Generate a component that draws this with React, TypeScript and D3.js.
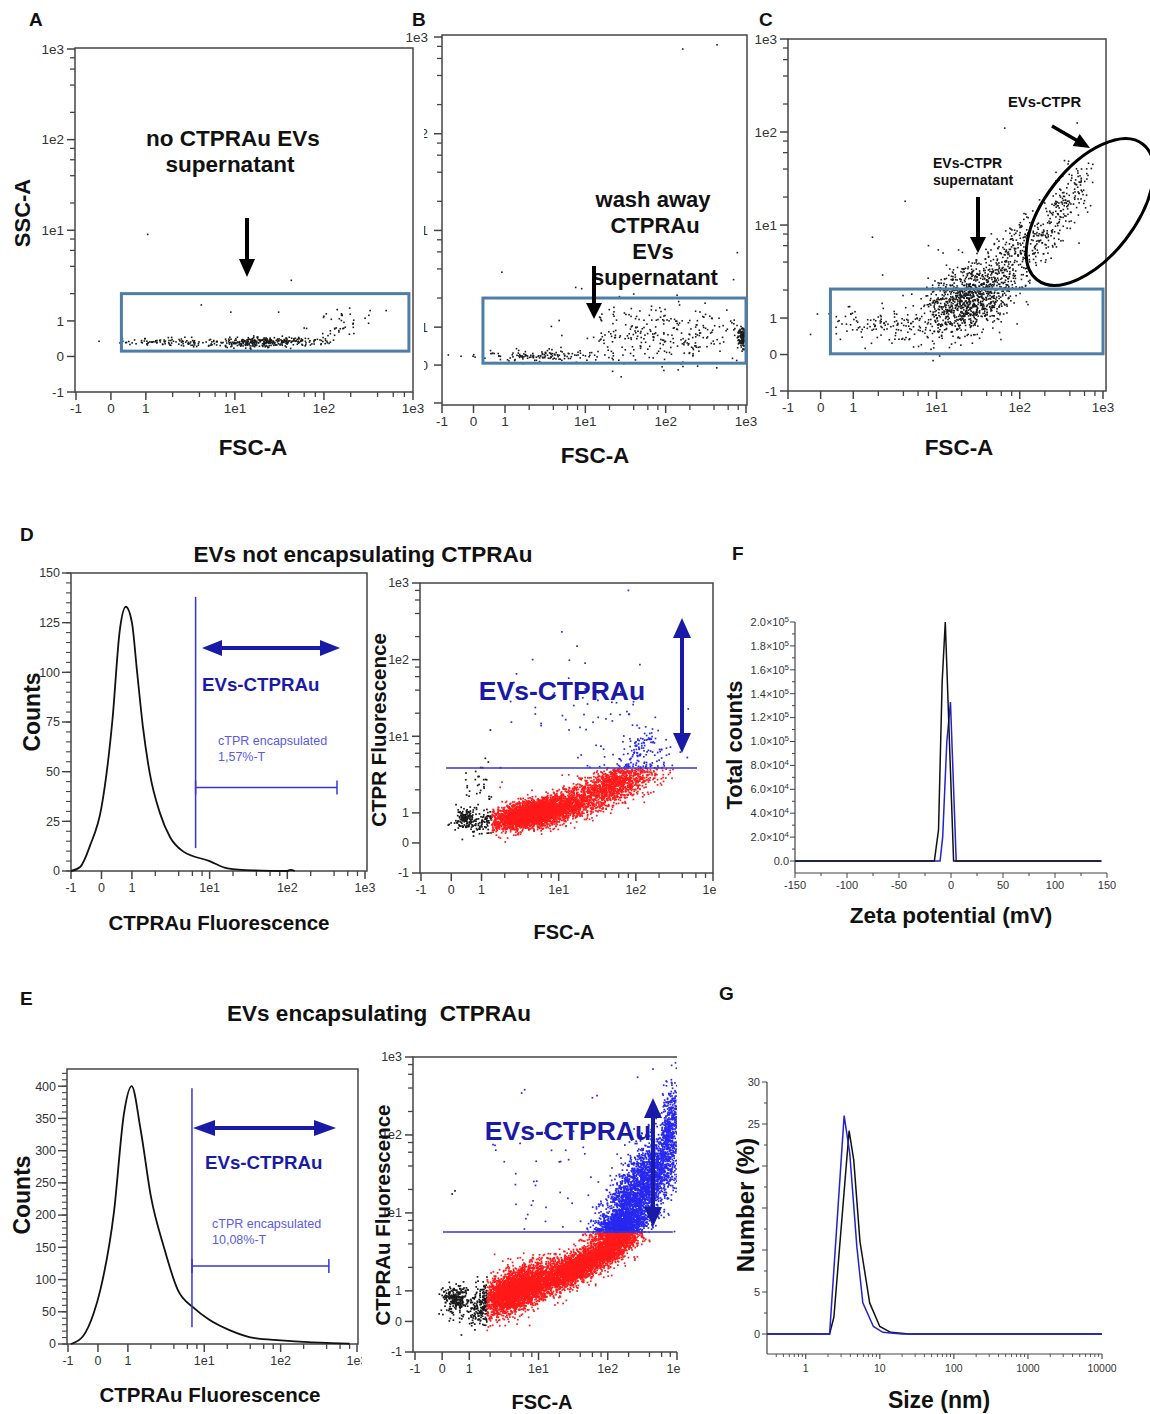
import React from 'react';
import * as d3 from 'd3';

const FONT = "'Liberation Sans', Arial, Helvetica, sans-serif";
const DEC = 2.55;
const tf = (v: number) => (v <= 1 ? v + 1 : 2 + DEC * Math.log10(v));
const T_MAX = tf(1000);

// biexponential axis ticks
const bxMajorValues = [-1, 0, 1, 10, 100, 1000];
const bxMajorLabels = ['-1', '0', '1', '1e1', '1e2', '1e3'];
const bxMinorMultipliers = [2, 4, 6, 8];
const bxMinorDecades = [1, 10, 100];

// cytometry populations: [xCentre, yCentre, sdX, sdY, rho, count] (sd in display units)
const popsA = [
  [21, 0.4, 0.8, 0.07, 0.2, 330],
  [1.8, 0.42, 0.7, 0.07, 0, 90],
  [150, 0.9, 0.4, 0.22, 0.4, 40],
];
const outliersA = [[1.05, 9], [43, 2.8], [4.2, 1.5], [9, 1.25], [31, 1.25], [330, 1.3], [500, 1.3], [160, 1.15], [60, 0.8]];

const popsB = [
  [2.5, 0.25, 1.0, 0.08, 0, 140],
  [91, 0.8, 1.3, 0.45, 0, 280],
  [900, 0.75, 0.08, 0.15, 0, 130],
];
const outliersB = [[163, 750], [436, 830], [0.9, 3.7], [780, 5.9], [700, 3.1], [9, 2.5], [40, 2.2], [200, 2.0]];

const popsC = [
  [25, 1.6, 0.75, 0.5, 0.45, 1100],
  [100, 5.9, 0.5, 0.45, 0.6, 200],
  [310, 14.5, 0.45, 0.7, 0.75, 200],
  [2.06, 0.8, 0.8, 0.25, 0, 110],
];
const outliersC = [[66, 110], [490, 125], [4.2, 18], [1.7, 7.4], [2.25, 2.9], [8, 6], [12, 5]];

const popsDs = [
  [0.45, 0.85, 0.17, 0.17, 0, 130],
  [1.0, 2.25, 0.35, 0.4, 0, 35],
  [5.3, 1.0, 0.8, 0.27, 0.55, 3400],
  [48, 2.25, 0.75, 0.38, 0.6, 1300],
  [120, 8, 0.4, 0.3, 0.3, 90],
  [23, 18, 1.4, 0.7, 0, 45],
];
const outliersDs = [[11, 230], [17.3, 150], [4.6, 100], [22, 90], [80, 800], [167, 1000]];
const gateDs = { y: 3.84, blackMaxX: 1.35, x0: -0.17, x1: 620 };

const popsEs = [
  [0.5, 0.75, 0.25, 0.24, 0, 240],
  [4.8, 1.03, 0.7, 0.42, 0.6, 3200],
  [36, 2.02, 0.8, 0.45, 0.8, 2400],
  [120, 3.6, 0.45, 0.33, 0.7, 800],
  [300, 20, 0.75, 0.95, 0.75, 3000],
  [150, 6.6, 0.5, 0.25, 0.5, 900],
  [800, 140, 0.2, 0.7, 0.4, 400],
  [11.5, 28, 1.3, 1.0, 0, 40],
];
const outliersEs = [[5.7, 345], [6.3, 380], [60, 300], [70, 320], [380, 1000], [270, 550], [450, 700]];
const gateEs = { y: 5.7, blackMaxX: 1.8, x0: 0.03, x1: 870 };

// histograms (CTPRAu fluorescence, counts)
const histDx = [-1, -0.7, -0.37, 0, 0.36, 0.6, 0.8, 1, 1.16, 1.39, 1.7, 2.3, 3.1, 4.5, 10, 17, 36, 100, 110, 125];
const histDy = [0, 2, 13, 32, 76, 121, 133, 125, 101, 72, 49, 29, 17, 10, 5, 1.3, 0.3, 0, 0.6, 0];
const histEx = [-0.9, -0.5, -0.14, 0.08, 0.53, 0.87, 1.12, 1.47, 2.0, 2.95, 4.5, 7.3, 11.5, 21, 46, 100, 230, 470, 800];
const histEy = [0, 12, 48, 84, 203, 358, 400, 332, 229, 151, 84, 56, 38, 22, 9, 5.7, 3, 1.5, 0.5];
const gateHistD = { x: 6.6, yTop: 138, yBot: 11.5, bar: 42, barEnd: 436 };
const gateHistE = { x: 6.9, yTop: 397, yBot: 26, bar: 121, barEnd: 428 };

// zeta potential (mV, total counts)
const zetaBlackX = [-150, -16, -12, -8.5, -5.5, 2.5, 144];
const zetaBlackY = [0, 0, 26000, 150000, 200000, 0, 0];
const zetaBlueX = [-150, -10.5, -8, -4, -0.5, 5, 145];
const zetaBlueY = [0, 0, 20000, 100000, 133000, 0, 0];
const zetaYTicks = [0, 2e4, 4e4, 6e4, 8e4, 1e5, 1.2e5, 1.4e5, 1.6e5, 1.8e5, 2e5];
const zetaXTicks = [-150, -100, -50, 0, 50, 100, 150];

// size distribution (nm, number %)
const sizeBlackX = [0.3, 2.1, 2.4, 3.85, 4.45, 5.4, 7.3, 10, 14, 25, 10000];
const sizeBlackY = [0, 0, 2, 24.2, 20.7, 11, 3.7, 0.9, 0.2, 0, 0];
const sizeBlueX = [0.3, 2.1, 3.3, 3.93, 4.9, 5.9, 8.2, 11, 20, 10000];
const sizeBlueY = [0, 0, 26, 21.5, 10.4, 3.7, 0.9, 0.2, 0, 0];
const sizeYTicks = [0, 5, 10, 15, 20, 25, 30];
const sizeYLabels = ['0', '5', '', '', '', '25', '30'];
const sizeXTicks = [1, 10, 100, 1000, 10000];

const AX = '#444';
const DARKBLUE = '#1a1aa8';
const GATEBLUE = '#3535d8';
const LIGHTBLUE = '#5a5ae8';
const RED = '#ff1a1a';
const PBLUE = '#2828f0';

function genCloud(pops: number[][], seed: number): [number, number][] {
  const rng = d3.randomLcg(seed);
  const norm = d3.randomNormal.source(rng)(0, 1);
  const out: [number, number][] = [];
  pops.forEach(([cx, cy, sx, sy, rho, n]) => {
    const mx = tf(cx), my = tf(cy);
    for (let i = 0; i < n; i++) {
      const z1 = norm(), z2 = norm();
      out.push([mx + sx * z1, my + sy * (rho * z1 + Math.sqrt(1 - rho * rho) * z2)]);
    }
  });
  return out;
}

function arrowPts(x1: number, y1: number, x2: number, y2: number, shaft: number, hl: number, hw: number, dbl: boolean) {
  const L = Math.hypot(x2 - x1, y2 - y1);
  const ux = (x2 - x1) / L, uy = (y2 - y1) / L;
  const nx = -uy, ny = ux, hs = shaft / 2;
  const p: number[][] = [];
  if (dbl) {
    p.push([x1, y1]);
    p.push([x1 + ux * hl + nx * hw, y1 + uy * hl + ny * hw]);
    p.push([x1 + ux * hl + nx * hs, y1 + uy * hl + ny * hs]);
  } else p.push([x1 + nx * hs, y1 + ny * hs]);
  p.push([x2 - ux * hl + nx * hs, y2 - uy * hl + ny * hs]);
  p.push([x2 - ux * hl + nx * hw, y2 - uy * hl + ny * hw]);
  p.push([x2, y2]);
  p.push([x2 - ux * hl - nx * hw, y2 - uy * hl - ny * hw]);
  p.push([x2 - ux * hl - nx * hs, y2 - uy * hl - ny * hs]);
  if (dbl) {
    p.push([x1 + ux * hl - nx * hs, y1 + uy * hl - ny * hs]);
    p.push([x1 + ux * hl - nx * hw, y1 + uy * hl - ny * hw]);
  } else p.push([x1 - nx * hs, y1 - ny * hs]);
  return p.map((q) => q.join(',')).join(' ');
}

function Arrow(props: { x1: number; y1: number; x2: number; y2: number; shaft?: number; hl?: number; hw?: number; dbl?: boolean; color?: string }) {
  const { x1, y1, x2, y2, shaft = 4, hl = 16, hw = 8, dbl = false, color = '#000' } = props;
  return <polygon points={arrowPts(x1, y1, x2, y2, shaft, hl, hw, dbl)} fill={color} />;
}

const bxMinorTs = bxMinorDecades.flatMap((d) => bxMinorMultipliers.map((m) => tf(m * d)));
const bxMajorTs = bxMajorValues.map(tf);

function BiexX({ sx, y }: any) {
  return (
    <g>
      {bxMajorTs.map((t, i) => <line key={'M' + i} x1={sx(t)} x2={sx(t)} y1={y} y2={y + 8} stroke={AX} strokeWidth={1.5} />)}
      {bxMinorTs.map((t, i) => <line key={'m' + i} x1={sx(t)} x2={sx(t)} y1={y} y2={y + 5} stroke={AX} strokeWidth={1.3} />)}
    </g>
  );
}
function BiexXLabels({ sx, y, fs, dy = 21 }: any) {
  return (
    <g>
      {bxMajorTs.map((t, i) => (
        <text key={i} x={sx(t)} y={y + dy} textAnchor="middle" fontSize={fs} fill="#333" fontFamily={FONT}>{bxMajorLabels[i]}</text>
      ))}
    </g>
  );
}
function BiexY({ sy, x }: any) {
  return (
    <g>
      {bxMajorTs.map((t, i) => <line key={'M' + i} x1={x - 8} x2={x} y1={sy(t)} y2={sy(t)} stroke={AX} strokeWidth={1.5} />)}
      {bxMinorTs.map((t, i) => <line key={'m' + i} x1={x - 5} x2={x} y1={sy(t)} y2={sy(t)} stroke={AX} strokeWidth={1.3} />)}
    </g>
  );
}
function BiexYLabels({ sy, x, fs, off = 11 }: any) {
  return (
    <g>
      {bxMajorTs.map((t, i) => (
        <text key={i} x={x - off} y={sy(t)} dy="0.35em" textAnchor="end" fontSize={fs} fill="#333" fontFamily={FONT}>{bxMajorLabels[i]}</text>
      ))}
    </g>
  );
}

type Cfg = {
  id: string;
  frame: number[];
  xr: number[];
  yr: number[];
  fs: number;
  open?: boolean;
  clips?: number[][];
  ylOff?: number;
};

function FlowScatter({ cfg, pts, color, size = 1.6, extra }: { cfg: Cfg; pts: [number, number][]; color: (p: [number, number]) => string; size?: number; extra?: any }) {
  const [l, t, r, b] = cfg.frame;
  const sx = d3.scaleLinear().domain([0, T_MAX]).range(cfg.xr);
  const sy = d3.scaleLinear().domain([0, T_MAX]).range(cfg.yr);
  const order = ['#1a1a1a', RED, PBLUE];
  const sorted = pts.slice().sort((a, b2) => order.indexOf(color(a)) - order.indexOf(color(b2)));
  const clipId = 'clip-' + cfg.id;
  const lblClip = 'lbl-' + cfg.id;
  return (
    <g>
      <defs>
        <clipPath id={clipId}><rect x={l + 1} y={t + 1} width={r - l - 1} height={b - t - 1} /></clipPath>
        {cfg.clips && (
          <clipPath id={lblClip}>{cfg.clips.map((c, i) => <rect key={i} x={c[0]} y={c[1]} width={c[2]} height={c[3]} />)}</clipPath>
        )}
      </defs>
      <g clipPath={`url(#${clipId})`}>
        {sorted.map((p, i) => (
          <rect key={i} x={sx(p[0]) - size / 2} y={sy(p[1]) - size / 2} width={size} height={size} fill={color(p)} />
        ))}
      </g>
      {cfg.open ? (
        <path d={`M${r},${t}H${l}V${b}H${r}`} fill="none" stroke={AX} strokeWidth={1.5} />
      ) : (
        <rect x={l} y={t} width={r - l} height={b - t} fill="none" stroke={AX} strokeWidth={1.5} />
      )}
      <BiexX sx={sx} y={b} />
      <BiexY sy={sy} x={l} />
      <g clipPath={cfg.clips ? `url(#${lblClip})` : undefined}>
        <BiexXLabels sx={sx} y={b} fs={cfg.fs} />
        <BiexYLabels sy={sy} x={l} fs={cfg.fs} off={cfg.ylOff ?? 11} />
      </g>
      {extra && extra(sx, sy)}
    </g>
  );
}

function Hist({ id, frame, xr, yDom, yr, yMajor, yMinorStep, hx, hy, gate, fs, clips }: any) {
  const [l, t, r, b] = frame;
  const sx = d3.scaleLinear().domain([0, T_MAX]).range(xr);
  const sy = d3.scaleLinear().domain(yDom).range(yr);
  const line = d3.line<number>().x((_, i) => sx(tf(hx[i]))).y((v) => sy(v)).curve(d3.curveMonotoneX);
  const minors = d3.range(yDom[0], yDom[1] + 0.001, yMinorStep).filter((v) => sy(v) >= t - 0.5);
  const lblClip = 'lbl-' + id;
  const gx = sx(tf(gate.x));
  const gx2 = sx(tf(gate.barEnd));
  const gb = sy(gate.bar);
  return (
    <g>
      <defs>
        {clips && <clipPath id={lblClip}>{clips.map((c: number[], i: number) => <rect key={i} x={c[0]} y={c[1]} width={c[2]} height={c[3]} />)}</clipPath>}
      </defs>
      <rect x={l} y={t} width={r - l} height={b - t} fill="none" stroke={AX} strokeWidth={1.5} />
      {minors.map((v: number, i: number) => <line key={'m' + i} x1={l - 5} x2={l} y1={sy(v)} y2={sy(v)} stroke={AX} strokeWidth={1.1} />)}
      {yMajor.map((v: number, i: number) => (
        <g key={'M' + i}>
          <line x1={l - 9} x2={l} y1={sy(v)} y2={sy(v)} stroke={AX} strokeWidth={1.4} />
          <text x={l - 11} y={sy(v)} dy="0.35em" textAnchor="end" fontSize={fs} fill="#333" fontFamily={FONT}>{v}</text>
        </g>
      ))}
      <BiexX sx={sx} y={b} />
      <g clipPath={clips ? `url(#${lblClip})` : undefined}>
        <BiexXLabels sx={sx} y={b} fs={fs} />
      </g>
      <path d={line(hy) || ''} fill="none" stroke="#111" strokeWidth={1.8} />
      <line x1={gx} x2={gx} y1={sy(gate.yTop)} y2={sy(gate.yBot)} stroke={GATEBLUE} strokeWidth={1.5} />
      <line x1={gx} x2={gx2} y1={gb} y2={gb} stroke={GATEBLUE} strokeWidth={1.5} />
      <line x1={gx} x2={gx} y1={gb - 7} y2={gb + 7} stroke={GATEBLUE} strokeWidth={1.5} />
      <line x1={gx2} x2={gx2} y1={gb - 7} y2={gb + 7} stroke={GATEBLUE} strokeWidth={1.5} />
    </g>
  );
}

const T = (props: any) => <text fontFamily={FONT} fontWeight="bold" fill="#111" {...props} />;
const RT = ({ x, y, size, children }: any) => (
  <text transform={`translate(${x},${y}) rotate(-90)`} textAnchor="middle" dominantBaseline="central" fontFamily={FONT} fontWeight="bold" fontSize={size} fill="#111">{children}</text>
);

export default function App() {
  const cA: Cfg = { id: 'A', frame: [75, 48, 413, 392], xr: [76, 413], yr: [392, 49], fs: 13.5 };
  const cB: Cfg = { id: 'B', frame: [442, 35, 747, 405], xr: [442, 746], yr: [403, 37], fs: 13.5, ylOff: 14, clips: [[395, 20, 60, 25], [424, 45, 30, 352], [420, 408, 340, 40]] };
  const cC: Cfg = { id: 'C', frame: [788, 39, 1106, 391], xr: [788, 1103], yr: [391, 39], fs: 13.5 };
  const cD: Cfg = { id: 'Ds', frame: [420, 583, 713, 873], xr: [421, 713], yr: [873, 583], fs: 12.5, clips: [[360, 570, 357, 340]] };
  const cE: Cfg = { id: 'Es', frame: [413, 1057, 677, 1352], xr: [415, 677], yr: [1352, 1057], fs: 12.5, open: true, clips: [[360, 1040, 321, 340]] };

  const ptsA = genCloud(popsA, 11).concat(outliersA.map(([x, y]) => [tf(x), tf(y)] as [number, number]));
  const ptsB = genCloud(popsB, 23).concat(outliersB.map(([x, y]) => [tf(x), tf(y)] as [number, number]));
  const ptsC = genCloud(popsC, 37).concat(outliersC.map(([x, y]) => [tf(x), tf(y)] as [number, number]));
  const ptsD = genCloud(popsDs, 41).concat(outliersDs.map(([x, y]) => [tf(x), tf(y)] as [number, number]));
  const ptsE = genCloud(popsEs, 53).concat(outliersEs.map(([x, y]) => [tf(x), tf(y)] as [number, number]));

  const blackCol = () => '#1a1a1a';
  const gateCol = (g: any) => (p: [number, number]) => (p[0] < tf(g.blackMaxX) ? '#1a1a1a' : p[1] > tf(g.y) ? PBLUE : RED);

  const gateRect = (x0: number, x1: number, y0: number, y1: number) => (sx: any, sy: any) => (
    <rect x={sx(tf(x0))} y={sy(tf(y1))} width={sx(tf(x1)) - sx(tf(x0))} height={sy(tf(y0)) - sy(tf(y1))} fill="none" stroke="#4d7ea8" strokeWidth={3} />
  );
  const gateLine = (g: any) => (sx: any, sy: any) => (
    <line x1={sx(tf(g.x0))} x2={sx(tf(g.x1))} y1={sy(tf(g.y))} y2={sy(tf(g.y))} stroke={GATEBLUE} strokeWidth={1.5} />
  );

  // F scales
  const fx = d3.scaleLinear().domain([-150, 150]).range([795, 1107]);
  const fy = d3.scaleLinear().domain([0, 2e5]).range([861, 622]);
  const zl = (xs: number[]) => d3.line<number>().x((_, i) => fx(xs[i])).y((v) => fy(v));
  // G scales
  const gx = d3.scaleLog().domain([0.3, 10000]).range([767, 1102]);
  const gy = d3.scaleLinear().domain([0, 30]).range([1334, 1082]);
  const sl = (xs: number[]) => d3.line<number>().x((_, i) => gx(xs[i])).y((v) => gy(v));
  const gMinor = [0.4, 0.5, 0.6, 0.7, 0.8, 0.9].concat(...[1, 10, 100, 1000].map((d) => [2, 3, 4, 5, 6, 7, 8, 9].map((m) => m * d)));

  return (
    <svg width={1150} height={1414} style={{ position: 'absolute', left: 0, top: 0, background: '#fff' }} fontFamily={FONT}>
      <rect x={0} y={0} width={1150} height={1414} fill="#fff" />

      {/* Panel B */}
      <FlowScatter cfg={cB} pts={ptsB} color={blackCol} extra={(sx: any, sy: any) => gateRect(0.3, 1000, 0.05, 2.0)(sx, sy)} />
      <T x={653} y={207} fontSize={22} textAnchor="middle">wash away</T>
      <T x={655} y={233} fontSize={22} textAnchor="middle">CTPRAu</T>
      <T x={653} y={259} fontSize={22} textAnchor="middle">EVs</T>
      <T x={655} y={285} fontSize={22} textAnchor="middle">supernatant</T>
      <Arrow x1={594} y1={266} x2={594} y2={319} shaft={4} hl={16} hw={8} />
      <T x={412} y={26} fontSize={19}>B</T>

      {/* Panel A */}
      <FlowScatter cfg={cA} pts={ptsA} color={blackCol} extra={gateRect(0.3, 900, 0.15, 2.0)} />
      <T x={233} y={146} fontSize={22.5} textAnchor="middle">no CTPRAu EVs</T>
      <T x={230} y={172} fontSize={22.5} textAnchor="middle">supernatant</T>
      <Arrow x1={247} y1={218} x2={247} y2={277} shaft={4} hl={18} hw={8} />
      <T x={29} y={26} fontSize={19}>A</T>
      <RT x={22} y={213} size={22}>SSC-A</RT>
      <T x={253} y={455} fontSize={22.5} textAnchor="middle">FSC-A</T>
      <T x={595} y={463} fontSize={22.5} textAnchor="middle">FSC-A</T>

      {/* Panel C */}
      <FlowScatter cfg={cC} pts={ptsC} color={blackCol} extra={gateRect(0.3, 1000, 0.02, 2.05)} />
      <ellipse cx={1090} cy={212} rx={86} ry={45} transform="rotate(-52,1090,212)" fill="none" stroke="#000" strokeWidth={3} />
      <T x={1008} y={107} fontSize={14.8}>EVs-CTPR</T>
      <T x={933} y={168} fontSize={14}>EVs-CTPR</T>
      <T x={933} y={185} fontSize={14}>supernatant</T>
      <Arrow x1={1052} y1={126} x2={1090} y2={148} shaft={3.5} hl={16} hw={7} />
      <Arrow x1={978} y1={197} x2={978} y2={253} shaft={4} hl={16} hw={8} />
      <T x={759} y={26} fontSize={19}>C</T>
      <T x={959} y={455} fontSize={22.5} textAnchor="middle">FSC-A</T>

      {/* Panel D */}
      <T x={20} y={541} fontSize={19}>D</T>
      <T x={363} y={562} fontSize={22.5} textAnchor="middle">EVs not encapsulating CTPRAu</T>
      <Hist id="hD" frame={[71, 573, 367, 871]} xr={[71, 365]} yDom={[0, 150]} yr={[871, 573]} yMajor={[0, 25, 50, 75, 100, 125, 150]} yMinorStep={5} hx={histDx} hy={histDy} gate={gateHistD} fs={12.5} />
      <Arrow x1={202} y1={648} x2={340} y2={648} shaft={4} hl={20} hw={8} dbl color={DARKBLUE} />
      <T x={202} y={691} fontSize={18.7} fill={DARKBLUE}>EVs-CTPRAu</T>
      <text x={218} y={745} fontSize={12.5} fill={LIGHTBLUE} fontFamily={FONT}>cTPR encapsulated</text>
      <text x={218} y={761} fontSize={12.5} fill={LIGHTBLUE} fontFamily={FONT}>1,57%-T</text>
      <RT x={32} y={712} size={23}>Counts</RT>
      <T x={219} y={930} fontSize={20.5} textAnchor="middle">CTPRAu Fluorescence</T>

      <FlowScatter cfg={cD} pts={ptsD} color={gateCol(gateDs)} size={1.7} extra={gateLine(gateDs)} />
      <Arrow x1={682} y1={618} x2={682} y2={753} shaft={4} hl={20} hw={9} dbl color={DARKBLUE} />
      <T x={562} y={700} fontSize={26.5} textAnchor="middle" fill={DARKBLUE}>EVs-CTPRAu</T>
      <RT x={378} y={730} size={20.5}>CTPR Fluorescence</RT>
      <T x={564} y={939} fontSize={20} textAnchor="middle">FSC-A</T>

      {/* Panel F */}
      <T x={732} y={560} fontSize={19}>F</T>
      <line x1={795} x2={795} y1={622} y2={873} stroke={AX} strokeWidth={1.2} />
      <line x1={795} x2={1107} y1={873} y2={873} stroke={AX} strokeWidth={1.2} />
      {d3.range(0, 2e5 + 1, 1e4).map((v, i) => <line key={'fyt' + i} x1={795 - (i % 2 ? 3 : 5)} x2={795} y1={fy(v)} y2={fy(v)} stroke={AX} strokeWidth={1} />)}
      {zetaYTicks.map((v, i) => {
        if (v === 0) return <text key={'fyl' + i} x={789} y={fy(v)} dy="0.35em" textAnchor="end" fontSize={11} fill="#333">0.0</text>;
        const e = Math.floor(Math.log10(v));
        const m = (v / Math.pow(10, e)).toFixed(1);
        return (
          <text key={'fyl' + i} x={789} y={fy(v)} dy="0.35em" textAnchor="end" fontSize={11} fill="#333">
            {m}×10<tspan dy={-4} fontSize={8}>{e}</tspan>
          </text>
        );
      })}
      {d3.range(-150, 151, 25).map((v, i) => <line key={'fxt' + i} x1={fx(v)} x2={fx(v)} y1={873} y2={873 + (i % 2 ? 3 : 5)} stroke={AX} strokeWidth={1} />)}
      {zetaXTicks.map((v, i) => <text key={'fxl' + i} x={fx(v)} y={889} textAnchor="middle" fontSize={11} fill="#333">{v}</text>)}
      <path d={zl(zetaBlueX)(zetaBlueY) || ''} fill="none" stroke="#2323c8" strokeWidth={1.5} />
      <path d={zl(zetaBlackX)(zetaBlackY) || ''} fill="none" stroke="#111" strokeWidth={1.5} />
      <RT x={734} y={745} size={22}>Total counts</RT>
      <T x={951} y={923} fontSize={22.5} textAnchor="middle">Zeta potential (mV)</T>

      {/* Panel E */}
      <T x={20} y={1005} fontSize={19}>E</T>
      <T x={379} y={1021} fontSize={22.5} textAnchor="middle" style={{ whiteSpace: 'pre' }}>EVs encapsulating  CTPRAu</T>
      <Hist id="hE" frame={[67, 1069, 358, 1344]} xr={[68, 357]} yDom={[0, 426.7]} yr={[1344, 1069]} yMajor={[0, 50, 100, 150, 200, 250, 300, 350, 400]} yMinorStep={10} hx={histEx} hy={histEy} gate={gateHistE} fs={12.5} clips={[[0, 1060, 362, 320]]} />
      <Arrow x1={193} y1={1128} x2={336} y2={1128} shaft={4} hl={22} hw={8} dbl color={DARKBLUE} />
      <T x={205} y={1169} fontSize={18.7} fill={DARKBLUE}>EVs-CTPRAu</T>
      <text x={212} y={1228} fontSize={12.5} fill={LIGHTBLUE} fontFamily={FONT}>cTPR encapsulated</text>
      <text x={212} y={1244} fontSize={12.5} fill={LIGHTBLUE} fontFamily={FONT}>10,08%-T</text>
      <RT x={22} y={1195} size={23}>Counts</RT>
      <T x={210} y={1402} fontSize={20.5} textAnchor="middle">CTPRAu Fluorescence</T>

      <FlowScatter cfg={cE} pts={ptsE} color={gateCol(gateEs)} size={1.7} extra={gateLine(gateEs)} />
      <T x={568} y={1140} fontSize={26.5} textAnchor="middle" fill={DARKBLUE}>EVs-CTPRAu</T>
      <Arrow x1={653} y1={1098} x2={653} y2={1227} shaft={4} hl={20} hw={9} dbl color={DARKBLUE} />
      <RT x={382} y={1215} size={20.5}>CTPRAu Fluorescence</RT>
      <T x={542} y={1409} fontSize={20} textAnchor="middle">FSC-A</T>

      {/* Panel G */}
      <T x={719} y={1000} fontSize={19}>G</T>
      <line x1={767} x2={767} y1={1082} y2={1354} stroke={AX} strokeWidth={1.2} />
      <line x1={767} x2={1102} y1={1354} y2={1354} stroke={AX} strokeWidth={1.2} />
      {d3.range(0, 30.1, 2.5).map((v, i) => <line key={'gyt' + i} x1={767 - (i % 2 ? 3 : 5)} x2={767} y1={gy(v)} y2={gy(v)} stroke={AX} strokeWidth={1} />)}
      {sizeYTicks.map((v, i) => sizeYLabels[i] ? <text key={'gyl' + i} x={760} y={gy(v)} dy="0.35em" textAnchor="end" fontSize={11} fill="#333">{sizeYLabels[i]}</text> : null)}
      {gMinor.map((v, i) => <line key={'gxm' + i} x1={gx(v)} x2={gx(v)} y1={1354} y2={1357} stroke={AX} strokeWidth={0.9} />)}
      {sizeXTicks.map((v, i) => (
        <g key={'gx' + i}>
          <line x1={gx(v)} x2={gx(v)} y1={1354} y2={1359} stroke={AX} strokeWidth={1.1} />
          <text x={gx(v)} y={1372} textAnchor="middle" fontSize={10.5} fill="#333">{v}</text>
        </g>
      ))}
      <path d={sl(sizeBlackX)(sizeBlackY) || ''} fill="none" stroke="#111" strokeWidth={1.5} />
      <path d={sl(sizeBlueX)(sizeBlueY) || ''} fill="none" stroke="#2323c8" strokeWidth={1.5} />
      <RT x={745} y={1205} size={24}>Number (%)</RT>
      <T x={939} y={1408} fontSize={23} textAnchor="middle">Size (nm)</T>
    </svg>
  );
}
